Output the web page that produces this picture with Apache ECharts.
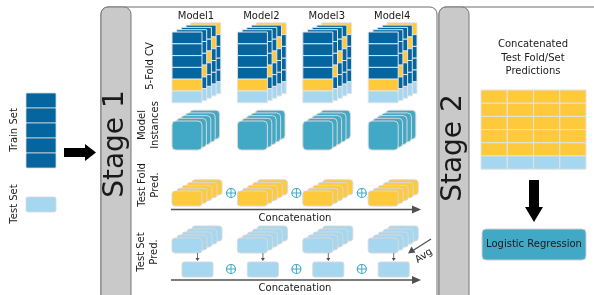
<!DOCTYPE html>
<html><head><meta charset="utf-8">
<script src="https://cdn.jsdelivr.net/npm/echarts@6/dist/echarts.min.js"></script>
<style>html,body{margin:0;padding:0;background:#fff}#c{width:594px;height:295px}</style>
</head><body><div id="c"></div>
<script>
// ---- content ----
const models = ['Model1','Model2','Model3','Model4'];
const folds = ['Fold 1','Fold 2','Fold 3','Fold 4','Fold 5'];
const rowLabels = ['5-Fold CV','Model\nInstances','Test Fold\nPred.','Test Set\nPred.'];
const stages = ['Stage 1','Stage 2'];
const inputSets = ['Train Set','Test Set'];
const outputTitle = 'Concatenated\nTest Fold/Set\nPredictions';
const metaModel = 'Logistic Regression';
const concatLabel = 'Concatenation';
const avgLabel = 'Avg';

// ---- styling / layout ----
const C = {dark:'#05659F', yellow:'#FFC93C', light:'#A6D7F0', teal:'#41A8C6', gray:'#C9C9C9', edge:'#D8D8D8', line:'#505050', text:'#1a1a1a'};
const F = 'DejaVu Sans';
const L = {colX0:172, colStep:65.4, labelY:16, bw:30,
  cvY:32, cvRow:11.8, cvDx:4.7, cvDy:2.3,
  inY:121, inH:29, inDx:4.4, inDy:2.7,
  tfY:191, tfH:15, tfDx:5, tfDy:2.8,
  tsY:238, tsH:15, tsDx:5, tsDy:3,
  gX:481, gY:90, gW:26.25, gH:13.2,
  trX:26, trY:93, trH:15};

function helpers(api){
  const P = (x,y)=>api.coord([x,y]);
  const R = (x,y,w,h,r,fill,stroke,lw)=>{const a=P(x,y),b=P(x+w,y+h);
    return {type:'rect',shape:{x:a[0],y:a[1],width:b[0]-a[0],height:b[1]-a[1],r:r||0},
      style:{fill:fill,stroke:stroke||C.edge,lineWidth:lw==null?1:lw}};};
  return {P,R};
}
function oplus(P,x,y){
  const c=P(x,y);
  return {type:'group',children:[
    {type:'circle',shape:{cx:c[0],cy:c[1],r:4.5},style:{fill:'none',stroke:C.teal,lineWidth:1.2}},
    {type:'line',shape:{x1:c[0]-4.5,y1:c[1],x2:c[0]+4.5,y2:c[1]},style:{stroke:C.teal,lineWidth:1}},
    {type:'line',shape:{x1:c[0],y1:c[1]-4.5,x2:c[0],y2:c[1]+4.5},style:{stroke:C.teal,lineWidth:1}}]};
}
function renderModel(params, api){
  const {P,R} = helpers(api);
  const i = api.value(0);
  const fx = L.colX0 + i*L.colStep;
  const ch = [];
  const lp = P(fx+24, L.labelY);
  ch.push({type:'text',x:lp[0],y:lp[1],style:{text:models[i],font:'10px "'+F+'"',fill:C.text,align:'center',verticalAlign:'middle'}});
  const nL = folds.length;
  for(let k=nL-1;k>=0;k--){
    const x = fx + k*L.cvDx, y = L.cvY - k*L.cvDy, tf = nL-1-k;
    folds.forEach((f,j)=>ch.push(R(x,y+j*L.cvRow,L.bw,L.cvRow,0,j===tf?C.yellow:C.dark,'#E4E4E4')));
    ch.push(R(x,y+nL*L.cvRow,L.bw,L.cvRow,0,C.light,'#E4E4E4'));
  }
  for(let k=nL-1;k>=0;k--) ch.push(R(fx+k*L.inDx, L.inY-k*L.inDy, L.bw, L.inH, 4, C.teal));
  for(let k=nL-1;k>=0;k--) ch.push(R(fx+k*L.tfDx, L.tfY-k*L.tfDy, L.bw, L.tfH, 3, C.yellow));
  for(let k=nL-1;k>=0;k--) ch.push(R(fx+k*L.tsDx, L.tsY-k*L.tsDy, L.bw, L.tsH, 3, C.light));
  const a1=P(fx+25.5, L.tsY+L.tsH), a2=P(fx+25.5, L.tsY+L.tsH+8);
  ch.push({type:'line',shape:{x1:a1[0],y1:a1[1],x2:a2[0],y2:a2[1]-2},style:{stroke:C.line,lineWidth:0.8}});
  ch.push({type:'polygon',shape:{points:[[a2[0]-2,a2[1]-3],[a2[0]+2,a2[1]-3],[a2[0],a2[1]]]},style:{fill:C.line}});
  ch.push(R(fx+10, L.tsY+L.tsH+9, 31, 15, 2, C.light));
  if(i<models.length-1){ ch.push(oplus(P, fx+59, L.tfY+2)); ch.push(oplus(P, fx+59, L.tsY+31)); }
  return {type:'group',children:ch};
}
function renderGrid(params, api){
  const {R} = helpers(api);
  const c = api.value(0), r = api.value(1);
  return R(L.gX+c*L.gW, L.gY+r*L.gH, L.gW, L.gH, 0, r<folds.length?C.yellow:C.light, '#E2E2E2', 1);
}
function renderInput(params, api){
  const {R} = helpers(api);
  const j = api.value(0);
  if(j<folds.length) return R(L.trX, L.trY+j*L.trH, L.bw, L.trH, 1, C.dark, '#D8D8D8', 0.8);
  return R(L.trX, 197, L.bw, 15, 2, C.light, '#D8D8D8', 0.8);
}

const gridData = [];
for(let r=0;r<=folds.length;r++) for(let c=0;c<models.length;c++) gridData.push([c,r]);
const inputData = folds.map((f,j)=>[j]).concat([[folds.length]]);

const txt = (text,x,y,size,rot,extra)=>Object.assign({type:'text',x:x,y:y,rotation:rot||0,z:10,
  style:Object.assign({text:text,font:size+'px "'+F+'"',fill:C.text,align:'center',verticalAlign:'middle',lineHeight:Math.round(size*1.25)},extra||{})});
const arrowLine = (y)=>[
  {type:'line',z:5,shape:{x1:171,y1:y,x2:414,y2:y},style:{stroke:C.line,lineWidth:1.6}},
  {type:'polygon',z:5,shape:{points:[[412,y-4],[421,y],[412,y+4]]},style:{fill:C.line}}];

const graphic = [
  {type:'rect',z:0,shape:{x:101,y:7,width:336,height:300,r:7},style:{fill:'#fff',stroke:'#6a6a6a',lineWidth:1}},
  {type:'rect',z:1,shape:{x:101,y:7,width:30,height:300,r:7},style:{fill:C.gray,stroke:'#777',lineWidth:1}},
  {type:'rect',z:0,shape:{x:439,y:7,width:170,height:300,r:7},style:{fill:'#fff',stroke:'#6a6a6a',lineWidth:1}},
  {type:'rect',z:1,shape:{x:439,y:7,width:30,height:300,r:7},style:{fill:C.gray,stroke:'#777',lineWidth:1}},
  txt(stages[0],116,144,28,Math.PI/2),
  txt(stages[1],454,148,28,Math.PI/2),
  txt(inputSets[0],14,130,10,Math.PI/2),
  txt(inputSets[1],14,204,10,Math.PI/2),
  {type:'polygon',z:5,shape:{points:[[64,148],[85,148],[85,144],[96,152.5],[85,161],[85,157],[64,157]]},style:{fill:'#000'}},
  txt(rowLabels[0],150,66,10,Math.PI/2),
  txt(rowLabels[1],149,125,10,Math.PI/2),
  txt(rowLabels[2],149,185,10,Math.PI/2),
  txt(rowLabels[3],148,252,10,Math.PI/2),
  ...arrowLine(209.5),
  ...arrowLine(280),
  txt(concatLabel,295,218,10,0),
  txt(concatLabel,295,288,10,0),
  {type:'line',z:5,shape:{x1:431,y1:239,x2:413,y2:250.5},style:{stroke:C.line,lineWidth:1.3}},
  {type:'polygon',z:5,shape:{points:[[408,253.5],[411.5,246.5],[415.5,252.5]]},style:{fill:C.line}},
  txt(avgLabel,424,256,10,0.6),
  txt(outputTitle,533,58,10,0,{lineHeight:13.5}),
  {type:'polygon',z:5,shape:{points:[[529,180],[539,180],[539,207],[543,207],[534,222],[525,207],[529,207]]},style:{fill:'#000'}},
  {type:'rect',z:5,shape:{x:482,y:229,width:104,height:31,r:4},style:{fill:C.teal,stroke:'#D0D0D0',lineWidth:1}},
  txt(metaModel,534,244.5,10,0)
];

const chart = echarts.init(document.getElementById('c'), null, {renderer:'canvas'});
chart.setOption({
  animation:false,
  grid:{left:0,right:0,top:0,bottom:0},
  xAxis:{type:'value',min:0,max:594,show:false},
  yAxis:{type:'value',min:0,max:295,inverse:true,show:false},
  graphic:graphic,
  series:[
    {type:'custom',z:6,renderItem:renderModel,data:models.map((m,i)=>[i]),silent:true},
    {type:'custom',z:6,renderItem:renderGrid,data:gridData,silent:true},
    {type:'custom',z:6,renderItem:renderInput,data:inputData,silent:true}
  ]
});
</script></body></html>
